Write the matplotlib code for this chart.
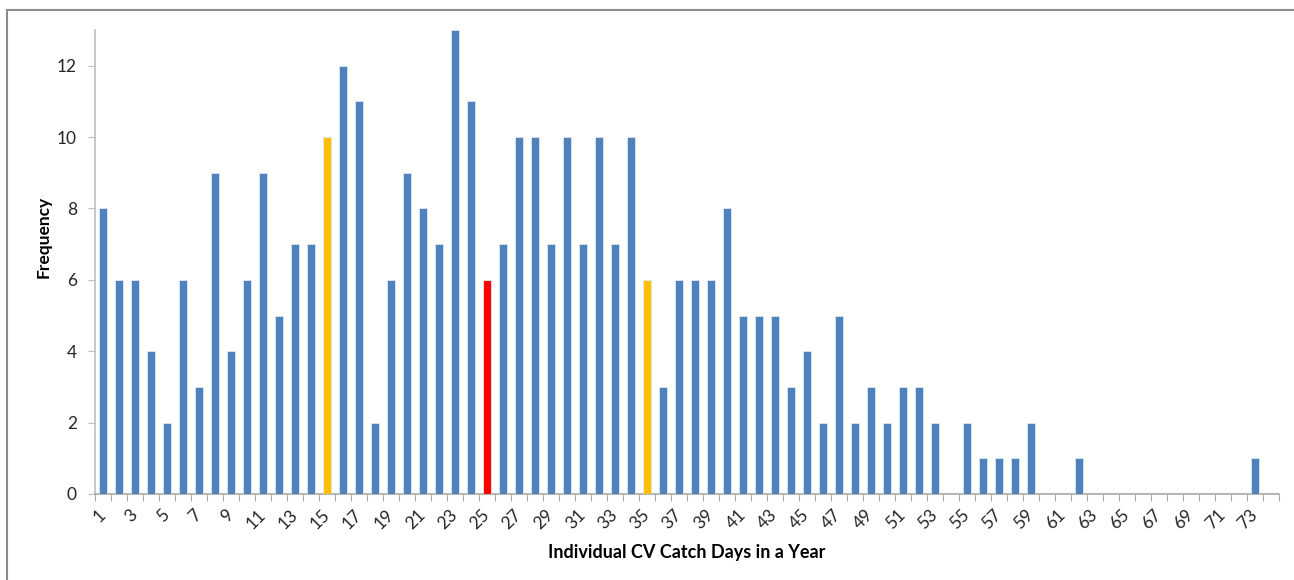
import matplotlib.pyplot as plt
from matplotlib.lines import Line2D

days = list(range(1, 75))
freq = [8, 6, 6, 4, 2, 6, 3, 9, 4, 6, 9, 5, 7, 7, 10, 12, 11, 2, 6, 9,
        8, 7, 13, 11, 6, 7, 10, 10, 7, 10, 7, 10, 7, 10, 6, 3, 6, 6, 6, 8,
        5, 5, 5, 3, 4, 2, 5, 2, 3, 2, 3, 3, 2, 0, 2, 1, 1, 1, 2, 0,
        0, 1, 0, 0, 0, 0, 0, 0, 0, 0, 0, 0, 1, 0]
highlight_yellow = [15, 35]
highlight_red = [25]

plt.rcParams['font.family'] = ['Lato', 'DejaVu Sans']

blue = '#4f81bd'
colors = []
for d in days:
    if d in highlight_red:
        colors.append('#ff0000')
    elif d in highlight_yellow:
        colors.append('#ffc000')
    else:
        colors.append(blue)

fig = plt.figure(figsize=(12.94, 5.8), dpi=100)
ax = fig.add_axes([95/1294, 86/580, 1184/1294, 464/580])

ax.bar(days, freq, width=0.5, color=colors, edgecolor='#dce6f2', linewidth=0.6, zorder=3)

ax.set_xlim(0.5, 74.5)
ax.set_ylim(0, 13)
ax.set_yticks(range(0, 13, 2))
ax.set_xticks(days[::2])
ax.set_xticklabels([str(d) for d in days[::2]], rotation=45, ha='right', va='center',
                   rotation_mode='anchor', fontsize=12.5, color='#262626')
ax.set_xticks([d + 0.5 for d in range(0, 75)], minor=True)
ax.tick_params(axis='x', which='major', length=0, pad=13)
ax.tick_params(axis='x', which='minor', length=5, width=0.8, color='#a6a6a6', direction='out')
ax.tick_params(axis='y', length=5, width=0.8, color='#bfbfbf', labelsize=12.5,
               labelcolor='#262626', pad=8)

for s in ['top', 'right']:
    ax.spines[s].set_visible(False)
ax.spines['left'].set_color('#bfbfbf')
ax.spines['bottom'].set_color('#a6a6a6')
ax.spines['left'].set_linewidth(1.2)
ax.spines['bottom'].set_linewidth(1.2)

ax.set_xlabel('Individual CV Catch Days in a Year', fontsize=13, fontweight='bold')
ax.xaxis.set_label_coords(0.5, -(544 - 494) / 464)
ax.set_ylabel('Frequency', fontsize=12.5, fontweight='bold')
ax.yaxis.set_label_coords(-(95 - 52) / 1184, (494 - 237) / 464)

# chart area border (top and left edges visible)
fig.add_artist(Line2D([7/1294, 1], [1 - 10/580, 1 - 10/580], color='#8c8c8c', lw=1.5,
                      transform=fig.transFigure))
fig.add_artist(Line2D([7/1294, 7/1294], [0, 1 - 10/580], color='#8c8c8c', lw=1.5,
                      transform=fig.transFigure))

fig.savefig('out.png', dpi=100)
